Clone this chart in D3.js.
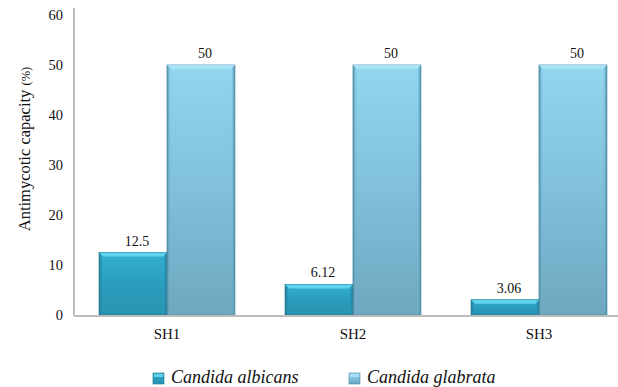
<!DOCTYPE html>
<html>
<head>
<meta charset="utf-8">
<script src="https://cdn.jsdelivr.net/npm/d3@7"></script>
<style>
  html, body { margin: 0; padding: 0; background: #fff; }
  svg { display: block; }
</style>
</head>
<body>
<svg id="chart" width="618" height="387"></svg>
<script>
// Antimycotic capacity of SH1–SH3 against two Candida species
const categories = ["SH1", "SH2", "SH3"];
const seriesNames = ["Candida albicans", "Candida glabrata"];
const albicans = [12.5, 6.12, 3.06];
const glabrata = [50, 50, 50];
const yTicks = [0, 10, 20, 30, 40, 50, 60];
const valueLabels = [["12.5", "6.12", "3.06"], ["50", "50", "50"]];

const series = [albicans, glabrata];
const FONT = '"Liberation Serif"';

const svg = d3.select("#chart");
const W = 618, H = 387;
const left = 74, baseY = 315;

const x = d3.scaleBand().domain(categories).range([left, 632])
  .paddingInner(0.27).paddingOuter(0.135);
const xs = d3.scaleBand().domain(d3.range(series.length)).range([0, x.bandwidth()]);
const y = d3.scaleLinear().domain([0, 60]).range([baseY, 15]);

// gradients for the bevelled bars
const defs = svg.append("defs");
const palettes = [
  { body: ["#35b0d0", "#2a9dbd", "#2a93b2"], top: "#5fd2ee", edge: "#1d7690" },
  { body: ["#92d6f0", "#80c0da", "#6ea7bf"], top: "#a9e2f7", edge: "#4d8aa3" }
];
palettes.forEach((p, i) => {
  const g = defs.append("linearGradient").attr("id", "body" + i)
    .attr("x1", 0).attr("y1", 0).attr("x2", 0).attr("y2", 1);
  g.append("stop").attr("offset", 0).attr("stop-color", p.body[0]);
  g.append("stop").attr("offset", 0.5).attr("stop-color", p.body[1]);
  g.append("stop").attr("offset", 1).attr("stop-color", p.body[2]);
  const l = defs.append("linearGradient").attr("id", "edgeL" + i)
    .attr("x1", 0).attr("y1", 0).attr("x2", 1).attr("y2", 0);
  l.append("stop").attr("offset", 0).attr("stop-color", p.edge);
  l.append("stop").attr("offset", 1).attr("stop-color", p.body[1]).attr("stop-opacity", 0);
  const r = defs.append("linearGradient").attr("id", "edgeR" + i)
    .attr("x1", 0).attr("y1", 0).attr("x2", 1).attr("y2", 0);
  r.append("stop").attr("offset", 0).attr("stop-color", p.body[1]).attr("stop-opacity", 0);
  r.append("stop").attr("offset", 1).attr("stop-color", p.edge);
});

// y axis line
svg.append("line").attr("x1", left).attr("x2", left).attr("y1", 8).attr("y2", baseY + 1)
  .attr("stroke", "#bdbdbd").attr("stroke-width", 2);

// y axis labels
const yAxis = svg.append("g").attr("transform", `translate(${left},0)`)
  .call(d3.axisLeft(y).tickValues(yTicks).tickSize(0).tickPadding(11));
yAxis.select(".domain").remove();
yAxis.attr("font-family", null).attr("font-size", null);
yAxis.selectAll("text").style("font-family", FONT).style("font-size", "14.5px").attr("fill", "#111");

// bars
series.forEach((vals, si) => {
  const g = svg.append("g");
  vals.forEach((v, ci) => {
    const bx = x(categories[ci]) + xs(si);
    const bw = xs.bandwidth();
    const by = y(v);
    const bh = baseY - by;
    const bev = Math.min(4, bh / 2);
    const side = 4;
    const p = palettes[si];
    const bar = g.append("g");
    bar.append("rect").attr("x", bx).attr("y", by).attr("width", bw).attr("height", bh)
      .attr("fill", `url(#body${si})`).attr("stroke", p.edge).attr("stroke-width", 0.8);
    bar.append("rect").attr("x", bx).attr("y", by).attr("width", side).attr("height", bh)
      .attr("fill", `url(#edgeL${si})`);
    bar.append("rect").attr("x", bx + bw - side).attr("y", by).attr("width", side).attr("height", bh)
      .attr("fill", `url(#edgeR${si})`);
    bar.append("path")
      .attr("d", `M${bx},${by} L${bx + bw},${by} L${bx + bw - side},${by + bev} L${bx + side},${by + bev} Z`)
      .attr("fill", p.top);
    svg.append("text")
      .attr("x", bx + bw / 2 + 4).attr("y", by - 7)
      .attr("text-anchor", "middle")
      .attr("fill", "#111")
      .style("font-family", FONT)
      .style("font-size", "14px")
      .text(valueLabels[si][ci]);
  });
});

// x axis
svg.append("line").attr("x1", left).attr("x2", W).attr("y1", baseY + 1).attr("y2", baseY + 1)
  .attr("stroke", "#bdbdbd").attr("stroke-width", 2);
const xAxis = svg.append("g").attr("transform", `translate(0,${baseY + 1})`)
  .call(d3.axisBottom(x).tickSize(0).tickPadding(12));
xAxis.select(".domain").remove();
xAxis.attr("font-family", null).attr("font-size", null);
xAxis.selectAll("text").style("font-family", FONT).style("font-size", "15px").attr("fill", "#111");

// y axis title
const title = svg.append("text")
  .attr("transform", "translate(30,149) rotate(-90)")
  .attr("text-anchor", "middle")
  .attr("fill", "#111")
  .style("font-family", FONT)
  .style("font-size", "16.5px");
title.append("tspan").text("Antimycotic capacity ");
title.append("tspan").style("font-size", "12.5px").text("(%)");

// legend
const legendX = [153, 349];
seriesNames.forEach((name, i) => {
  const lg = svg.append("g").attr("transform", `translate(${legendX[i]},373)`);
  lg.append("rect").attr("width", 11).attr("height", 11)
    .attr("fill", `url(#body${i})`).attr("stroke", palettes[i].edge).attr("stroke-width", 0.6);
  lg.append("rect").attr("x", 1).attr("y", 1).attr("width", 9).attr("height", 3).attr("fill", palettes[i].top);
  lg.append("text").attr("x", 18).attr("y", 10)
    .attr("fill", "#111")
    .style("font-family", FONT)
    .style("font-size", "18px").style("font-style", "italic")
    .text(name);
});
</script>
</body>
</html>
